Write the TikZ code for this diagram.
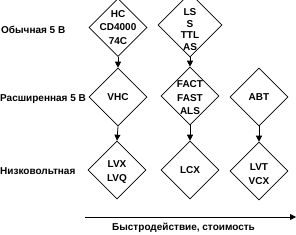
\documentclass[tikz,border=0pt]{standalone}
\usepackage{fontspec}
\setmainfont{Liberation Sans}
\usetikzlibrary{shapes.geometric,arrows.meta}
\begin{document}
\begin{tikzpicture}[x=1pt,y=-1pt,
  fam/.style={diamond,draw,line width=0.6pt,minimum width=58pt,minimum height=58pt,inner sep=0pt},
  txt/.style={font=\fontsize{10}{13.5}\selectfont\bfseries,align=center,inner sep=0pt},
  arr/.style={-{Triangle[length=6pt,width=6pt]},line width=0.8pt}]
  \useasboundingbox (0,0) rectangle (296,234);
  % Rows
  \node[txt,anchor=west] (std) at (1,30) {Обычная 5 В};
  \node[txt,anchor=west] (ext) at (0,99) {Расширенная 5 В};
  \node[txt,anchor=west] (low) at (0,171) {Низковольтная};
  % Standard 5 V
  \node[fam] (hc) at (118,27.5) {};
  \node[txt] (hct) at (hc) {HC\\CD4000\\74C};
  \node[fam,minimum width=64pt,minimum height=64pt] (ls) at (190,25) {};
  \node[txt] (lst) at (190,29.5) {LS\\[-2pt]S\\[-2pt]TTL\\[-2pt]AS};
  % Extended 5 V
  \node[fam] (vhc) at (118,97) {};
  \node[txt] (vhct) at (vhc) {VHC};
  \node[fam] (fact) at (190,96) {};
  \node[txt] (factt) at (190,98) {FACT\\FAST\\ALS};
  \node[fam] (abt) at (259,97) {};
  \node[txt] (abtt) at (abt) {ABT};
  % Low voltage
  \node[fam] (lvx) at (117,170) {};
  \node[txt] (lvxt) at (117,172) {LVX\\LVQ};
  \node[fam] (lcx) at (190,170) {};
  \node[txt] (lcxt) at (lcx) {LCX};
  \node[fam] (lvt) at (259,171) {};
  \node[txt] (lvtt) at (259,174) {LVT\\VCX};
  % Migration
  \draw[arr] (hc.south) -- (vhc.north);
  \draw[arr] (ls.south) -- (fact.north);
  \draw[arr] (vhc.south) -- (lvx.north);
  \draw[arr] (fact.south) -- (lcx.north);
  \draw[arr] (abt.south) -- (lvt.north);
  % Axis
  \coordinate (ax0) at (85,217);
  \coordinate (ax1) at (296,217);
  \draw[arr] (ax0) -- (ax1);
  \node[txt,anchor=west] (perf) at (112,228) {Быстродействие, стоимость};
\end{tikzpicture}
\end{document}
